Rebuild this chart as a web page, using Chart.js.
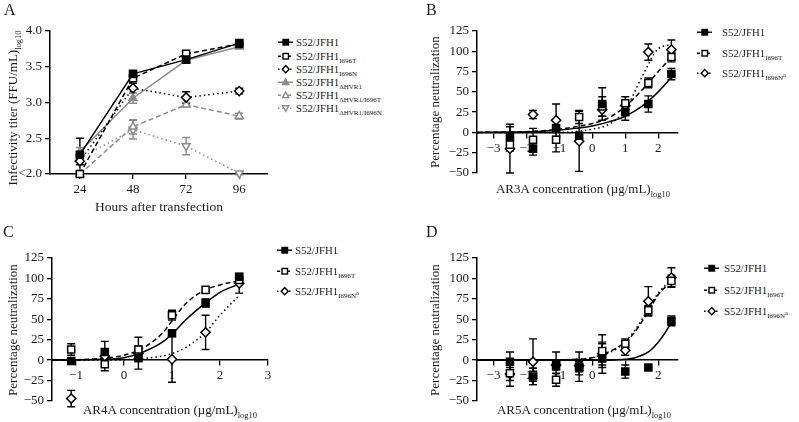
<!DOCTYPE html>
<html><head><meta charset="utf-8">
<script src="https://cdn.jsdelivr.net/npm/chart.js@4.4.1/dist/chart.umd.min.js"></script>
<style>
body{margin:0;background:#fff}
#wrap{position:relative;width:799px;height:422px;background:#fff;font-family:'Liberation Serif','Times New Roman',serif;color:#1a1a1a;overflow:hidden}
canvas{position:absolute}
.t{position:absolute;white-space:nowrap;font-size:13.5px;line-height:1;left:0;top:0}
.c{transform:translate(-50%,-50%)}
.r{transform:translate(-50%,-50%) rotate(-90deg)}
.p{font-size:16px;position:absolute;line-height:1}
sub{font-size:8.5px;vertical-align:-4px;line-height:0}
sup{font-size:6.5px;vertical-align:3px;line-height:0}
.row{position:absolute;display:flex;align-items:center;white-space:nowrap;font-size:10.8px;line-height:1;height:14px}
.row sub{font-size:7px;vertical-align:-3px}
</style></head><body>
<div id="wrap">
<canvas id="cA" width="275" height="200" style="left:0;top:0"></canvas>
<canvas id="cB" width="300" height="200" style="left:400px;top:0"></canvas>
<canvas id="cC" width="275" height="200" style="left:0;top:215px"></canvas>
<canvas id="cD" width="300" height="200" style="left:400px;top:215px"></canvas>
<div class="p" style="left:4px;top:2px">A</div>
<div class="p" style="left:426px;top:2px">B</div>
<div class="p" style="left:3px;top:224px">C</div>
<div class="p" style="left:426px;top:224px">D</div>
<div class="t c" style="left:159px;top:207px">Hours after transfection</div>
<div class="t r" style="left:12px;top:108px;font-size:13px">Infectivity titer (FFU/mL)<sub>log10</sub></div>
<div class="t c" style="left:583px;top:188px;font-size:13px">AR3A concentration (µg/mL)<sub>log10</sub></div>
<div class="t r" style="left:434px;top:102px;font-size:13px">Percentage neutralization</div>
<div class="t c" style="left:170px;top:409px;font-size:13px">AR4A concentration (µg/mL)<sub>log10</sub></div>
<div class="t r" style="left:12px;top:330px;font-size:13px">Percentage neutralization</div>
<div class="t c" style="left:584px;top:409px;font-size:13px">AR5A concentration (µg/mL)<sub>log10</sub></div>
<div class="t r" style="left:434px;top:330px;font-size:13px">Percentage neutralization</div>
</div>
<script>
// ---------- Panel A data ----------
const hoursA = [24, 48, 72, 96];
const titerJFH1 = [2.27, 3.40, 3.60, 3.83];
const errTiterJFH1 = [0.23, 0.03, 0.02, 0.02];
const titerI696T = [2.00, 3.34, 3.68, 3.82];
const errTiterI696T = [0.03, 0.04, 0.03, 0.02];
const titerI696N = [2.18, 3.20, 3.07, 3.16];
const errTiterI696N = [0.05, 0.07, 0.08, 0.04];
const titerHVR1 = [2.31, 3.06, 3.59, 3.78];
const errTiterHVR1 = [0.06, 0.07, 0.02, 0.02];
const titerHVR1T = [2.00, 2.66, 2.97, 2.81];
const errTiterHVR1T = [0.03, 0.10, 0.03, 0.04];
const titerHVR1N = [2.22, 2.62, 2.39, 2.01];
const errTiterHVR1N = [0.05, 0.13, 0.12, 0.02];
const ticksAx = [24, 48, 72, 96];
const ticksAy = [2.0, 2.5, 3.0, 3.5, 4.0];

// ---------- Neutralization common ----------
const concLog = [-2.5, -1.8, -1.1, -0.4, 0.3, 1.0, 1.7, 2.4];
const concLogC = [-1.1, -0.4, 0.3, 1.0, 1.7, 2.4];
const ticksNeutY = [-50, -25, 0, 25, 50, 75, 100, 125];
const ticksBDx = [-3, -2, -1, 0, 1, 2];
const ticksCx = [-1, 0, 1, 2, 3];

// ---------- Panel B (AR3A) ----------
const ar3aJFH1 = [-5, -20, 5, -4, 35, 25, 35, 72];
const ar3aJFH1Err = [12, 8, 4, 4, 20, 10, 10, 7];
const ar3aI696T = [-15, -9, -9, 19, 32, 36, 61, 93];
const ar3aI696TErr = [8, 14, 15, 8, 12, 8, 6, 6];
const ar3aI696N = [-20, 22, 15, -11, 28, 33, 99, 102];
const ar3aI696NErr = [30, 5, 20, 37, 8, 5, 10, 12];
const fitXB = [-3.5, -2.5, -1.5, -1, -0.5, 0, 0.5, 1, 1.5, 2, 2.4];
const fitB_JFH1 = [0, 0.5, 1.5, 3, 5, 8, 13, 20, 32, 50, 68];
const fitB_I696T = [0, 0.5, 2, 4, 7, 11, 18, 32, 52, 75, 93];
const fitB_I696N = [0, 0, 0, 0, 1, 4, 10, 28, 68, 103, 108];

// ---------- Panel C (AR4A) ----------
const ar4aJFH1 = [-1, 10, 3, 33, 70, 102];
const ar4aJFH1Err = [2, 13, 14, 3, 5, 3];
const ar4aI696T = [13, -5, 13, 55, 86, 98];
const ar4aI696TErr = [7, 8, 15, 6, 3, 4];
const ar4aI696N = [-47, 5, 8, 1, 34, 94];
const ar4aI696NErr = [10, 4, 4, 28, 21, 12];
const fitXC = [-1.5, -1, -0.5, 0, 0.4, 0.8, 1.0, 1.3, 1.7, 2.0, 2.4];
const fitC_JFH1 = [0, 0.3, 1, 3, 10, 22, 32, 50, 70, 83, 93];
const fitC_I696T = [0, 0.5, 2, 6, 15, 33, 48, 70, 86, 92, 97];
const fitC_I696N = [0, 0, 0, 0.5, 2, 5, 8, 16, 34, 55, 79];

// ---------- Panel D (AR5A) ----------
const ar5aJFH1 = [-2, -20, -7, -8, 2, -14, -9, 48];
const ar5aJFH1Err = [12, 10, 5, 18, 18, 8, 0, 6];
const ar5aI696T = [-16, -18, -24, -10, 11, 20, 61, 97];
const ar5aI696TErr = [16, 8, 8, 8, 20, 6, 6, 7];
const ar5aI696N = [-17, -2, -6, -7, 8, 12, 72, 101];
const ar5aI696NErr = [8, 28, 16, 6, 14, 6, 18, 12];
const fitXD = [-3.5, -1.5, -1, -0.5, 0, 0.3, 0.7, 1.0, 1.3, 1.7, 2.0, 2.2, 2.4];
const fitD_JFH1 = [0, 0, 0, 0, 0, 0, 0.3, 1, 3, 10, 22, 33, 46];
const fitD_I696T = [0, 0, 0.3, 1, 3, 7, 14, 22, 35, 60, 80, 89, 97];
const fitD_I696N = [0, 0, 0.3, 1, 3, 6, 13, 23, 37, 63, 82, 91, 99];

// ---------- helpers ----------
const FONT = "'Liberation Serif','Times New Roman',serif";
const TXT = '#1a1a1a';
const GRAY = '#8c8c8c';

const errorBars = {
  id: 'errorBars',
  beforeDatasetsDraw(chart) {
    const ctx = chart.ctx, xs = chart.scales.x, ys = chart.scales.y;
    chart.data.datasets.forEach(ds => {
      if (!ds.errors) return;
      ctx.save();
      ctx.strokeStyle = ds.borderColor;
      ctx.lineWidth = 1.4;
      ctx.setLineDash([]);
      ds.data.forEach((p, j) => {
        const e = ds.errors[j];
        if (!e) return;
        const px = xs.getPixelForValue(p.x);
        const y1 = ys.getPixelForValue(p.y + e), y2 = ys.getPixelForValue(p.y - e);
        ctx.beginPath();
        ctx.moveTo(px, y1); ctx.lineTo(px, y2);
        ctx.moveTo(px - 4, y1); ctx.lineTo(px + 4, y1);
        ctx.moveTo(px - 4, y2); ctx.lineTo(px + 4, y2);
        ctx.stroke();
      });
      ctx.restore();
    });
  }
};

function pts(xs, ys) { return xs.map((x, i) => ({x: x, y: ys[i]})); }
function minus(v) { return v < 0 ? '\u2212' + Math.abs(v) : String(v); }

function pointDs(xs, ys, errs, shape, filled, color, line, dash, rot) {
  return {
    data: pts(xs, ys), errors: errs,
    pointStyle: shape, pointRotation: rot || 0,
    pointRadius: shape === 'rect' ? 5 : 4.6,
    pointBackgroundColor: filled ? color : '#fff',
    pointBorderColor: color, pointBorderWidth: 1.5,
    borderColor: color, backgroundColor: color,
    showLine: !!line, borderWidth: 1.5, borderDash: dash || [],
    clip: false
  };
}
function curveDs(xs, ys, dash) {
  return {
    data: pts(xs, ys), showLine: true, pointRadius: 0,
    borderColor: '#000', borderWidth: 1.5, borderDash: dash || [],
    cubicInterpolationMode: 'monotone', clip: false
  };
}

function makeChart(id, cfg) {
  const axisCommon = {
    grid: {drawOnChartArea: false, drawTicks: true, tickLength: 5, color: '#000', lineWidth: 1.3},
    border: {display: true, color: '#000', width: 1.5}
  };
  return new Chart(document.getElementById(id), {
    type: 'scatter',
    data: {datasets: cfg.datasets},
    options: {
      responsive: false, animation: false, events: [],
      layout: {padding: cfg.padding},
      plugins: {legend: {display: false}, tooltip: {enabled: false}},
      scales: {
        x: Object.assign({}, axisCommon, {
          type: 'linear', min: cfg.xMin, max: cfg.xMax, position: cfg.xPos,
          afterBuildTicks: s => { s.ticks = cfg.xTicks.map(v => ({value: v})); },
          afterFit: s => { if (cfg.xHeight) s.height = cfg.xHeight; },
          ticks: {font: {family: FONT, size: 13}, color: TXT, padding: 3, maxRotation: 0, autoSkip: false,
                  callback: v => minus(v)}
        }),
        y: Object.assign({}, axisCommon, {
          type: 'linear', min: cfg.yMin, max: cfg.yMax,
          afterBuildTicks: s => { s.ticks = cfg.yTicks.map(v => ({value: v})); },
          afterFit: s => { s.width = cfg.yWidth; },
          ticks: {font: {family: FONT, size: 13}, color: TXT, padding: 3, autoSkip: false,
                  callback: cfg.yFmt || (v => minus(v))}
        })
      }
    },
    plugins: [errorBars]
  });
}

// ---------- Panel A ----------
makeChart('cA', {
  padding: {top: 31, right: 7, left: 0, bottom: 0},
  xMin: 10.5, xMax: 109, xTicks: ticksAx, xPos: 'bottom', xHeight: 26,
  yMin: 2.0, yMax: 4.0, yTicks: ticksAy, yWidth: 50,
  yFmt: v => v === 2 ? '<2.0' : v.toFixed(1),
  datasets: [
    pointDs(hoursA, titerJFH1, errTiterJFH1, 'rect', true, '#000', true, []),
    pointDs(hoursA, titerI696T, errTiterI696T, 'rect', false, '#000', true, [5, 3]),
    pointDs(hoursA, titerI696N, errTiterI696N, 'rectRot', false, '#000', true, [1.5, 3]),
    pointDs(hoursA, titerHVR1, errTiterHVR1, 'triangle', true, GRAY, true, []),
    pointDs(hoursA, titerHVR1T, errTiterHVR1T, 'triangle', false, GRAY, true, [5, 3]),
    pointDs(hoursA, titerHVR1N, errTiterHVR1N, 'triangle', false, GRAY, true, [1.5, 3], 180)
  ]
});

// ---------- Panel B ----------
makeChart('cB', {
  padding: {top: 31, right: 22, left: 0, bottom: 27},
  xMin: -3.5, xMax: 2.6, xTicks: ticksBDx, xPos: {y: 0},
  yMin: -50, yMax: 125, yTicks: ticksNeutY, yWidth: 77,
  datasets: [
    pointDs(concLog, ar3aJFH1, ar3aJFH1Err, 'rect', true, '#000'),
    pointDs(concLog, ar3aI696T, ar3aI696TErr, 'rect', false, '#000'),
    pointDs(concLog, ar3aI696N, ar3aI696NErr, 'rectRot', false, '#000'),
    curveDs(fitXB, fitB_JFH1, []),
    curveDs(fitXB, fitB_I696T, [5, 3]),
    curveDs(fitXB, fitB_I696N, [1.5, 3])
  ]
});

// ---------- Panel C ----------
makeChart('cC', {
  padding: {top: 43, right: 7, left: 0, bottom: 14},
  xMin: -1.5, xMax: 3, xTicks: ticksCx, xPos: {y: 0},
  yMin: -50, yMax: 125, yTicks: ticksNeutY, yWidth: 52,
  datasets: [
    pointDs(concLogC, ar4aJFH1, ar4aJFH1Err, 'rect', true, '#000'),
    pointDs(concLogC, ar4aI696T, ar4aI696TErr, 'rect', false, '#000'),
    pointDs(concLogC, ar4aI696N, ar4aI696NErr, 'rectRot', false, '#000'),
    curveDs(fitXC, fitC_JFH1, []),
    curveDs(fitXC, fitC_I696T, [5, 3]),
    curveDs(fitXC, fitC_I696N, [1.5, 3])
  ]
});

// ---------- Panel D ----------
makeChart('cD', {
  padding: {top: 43, right: 22, left: 0, bottom: 14},
  xMin: -3.5, xMax: 2.6, xTicks: ticksBDx, xPos: {y: 0},
  yMin: -50, yMax: 125, yTicks: ticksNeutY, yWidth: 77,
  datasets: [
    pointDs(concLog, ar5aJFH1, ar5aJFH1Err, 'rect', true, '#000'),
    pointDs(concLog, ar5aI696T, ar5aI696TErr, 'rect', false, '#000'),
    pointDs(concLog, ar5aI696N, ar5aI696NErr, 'rectRot', false, '#000'),
    curveDs(fitXD, fitD_JFH1, []),
    curveDs(fitXD, fitD_I696T, [5, 3]),
    curveDs(fitXD, fitD_I696N, [1.5, 3])
  ]
});

// ---------- Legends ----------
const legendA = [
  {sub: '', shape: 'sq', filled: true, color: '#000', dash: null},
  {sub: 'I696T', shape: 'sq', filled: false, color: '#000', dash: [3, 2]},
  {sub: 'I696N', shape: 'dia', filled: false, color: '#000', dash: [1.5, 2.5]},
  {sub: '\u0394HVR1', shape: 'tri', filled: true, color: GRAY, dash: null},
  {sub: '\u0394HVR1/I696T', shape: 'tri', filled: false, color: GRAY, dash: [3, 2]},
  {sub: '\u0394HVR1/I696N', shape: 'triDown', filled: false, color: GRAY, dash: [1.5, 2.5]}
];
const legendNeut = [
  {sub: '', shape: 'sq', filled: true, color: '#000', dash: null},
  {sub: 'I696T', shape: 'sq', filled: false, color: '#000', dash: [3, 2]},
  {sub: 'I696N<sup>a</sup>', shape: 'dia', filled: false, color: '#000', dash: [1.5, 2.5]}
];

function markerSVG(e) {
  const dash = e.dash ? `stroke-dasharray="${e.dash.join(',')}"` : '';
  const fill = e.filled ? e.color : '#fff';
  const st = `fill="${fill}" stroke="${e.color}" stroke-width="1.4"`;
  let m = '';
  if (e.shape === 'sq') m = `<rect x="5" y="4.5" width="5.5" height="5.5" ${st}/>`;
  if (e.shape === 'dia') m = `<polygon points="7.7,3.6 11.2,7.2 7.7,10.8 4.2,7.2" ${st}/>`;
  if (e.shape === 'tri') m = `<polygon points="7.7,4 10.8,9.6 4.6,9.6" ${st}/>`;
  if (e.shape === 'triDown') m = `<polygon points="7.7,10.4 10.8,4.8 4.6,4.8" ${st}/>`;
  return `<svg width="15" height="14" viewBox="0 0 15 14" style="margin-right:MRpx"><line x1="0" y1="7.2" x2="15" y2="7.2" stroke="${e.color}" stroke-width="1.4" ${dash}/>${m}</svg>`;
}
function buildLegend(entries, x, ys, gap) {
  const wrap = document.getElementById('wrap');
  entries.forEach((e, i) => {
    const row = document.createElement('div');
    row.className = 'row';
    row.style.left = x + 'px';
    row.style.top = (ys[i] - 7) + 'px';
    row.innerHTML = markerSVG(e).replace('MR', gap) + `<span>S52/JFH1<sub>${e.sub}</sub></span>`;
    wrap.appendChild(row);
  });
}
buildLegend(legendA, 278, [42, 56, 69, 82, 95, 108], 3);
buildLegend(legendNeut, 697, [32, 53, 73], 10);
buildLegend(legendNeut, 277, [250, 271, 291], 3);
buildLegend(legendNeut, 704, [268, 290, 311], 5);
</script>
</body></html>
